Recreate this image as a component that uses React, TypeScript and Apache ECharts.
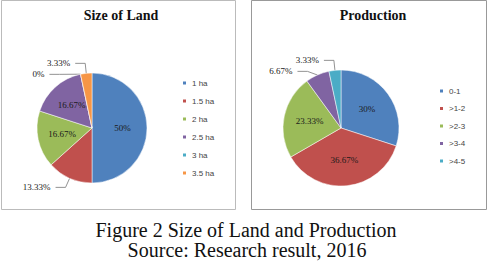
import React, { useEffect, useRef } from "react";
import * as echarts from "echarts";

const landCategories = ["1 ha", "1.5 ha", "2 ha", "2.5 ha", "3 ha", "3.5 ha"];
const landValues = [15, 4, 5, 5, 0, 1];
const landInside = [true, false, true, true, false, false];

const prodCategories = ["0-1", ">1-2", ">2-3", ">3-4", ">4-5"];
const prodValues = [9, 11, 7, 2, 1];
const prodInside = [true, true, true, false, false];

const landColors = ["#4F81BD", "#C0504D", "#9BBB59", "#8064A2", "#4BACC6", "#F79646"];
const prodColors = ["#4F81BD", "#C0504D", "#9BBB59", "#8064A2", "#4BACC6"];

const fmt = (p: any) => `${Number(p.percent.toFixed(2))}%`;

export default function App() {
  const ref = useRef<HTMLDivElement>(null);
  useEffect(() => {
    if (!ref.current) return;
    const chart = echarts.init(ref.current, undefined, { renderer: "svg" });
    const mk = (cats: string[], vals: number[], inside: boolean[], colors: string[]) =>
      cats.map((c, i) => ({
        name: c,
        value: vals[i],
        itemStyle: { color: colors[i] },
        label: { position: inside[i] ? "inside" : "outside" },
      }));
    const labelStyle = {
      formatter: fmt,
      fontSize: 9,
      color: "#1a1a1a",
      fontFamily: "Liberation Serif",
    };
    chart.setOption({
      animation: false,
      backgroundColor: "#fff",
      title: [
        {
          text: "Size of Land",
          left: 116,
          top: 3,
          textAlign: "center",
          textStyle: { fontFamily: "Liberation Serif", fontWeight: "bold", fontSize: 14, color: "#111" },
        },
        {
          text: "Production",
          left: 368,
          top: 3,
          textAlign: "center",
          textStyle: { fontFamily: "Liberation Serif", fontWeight: "bold", fontSize: 14, color: "#111" },
        },
      ],
      legend: [
        {
          data: landCategories,
          orient: "vertical",
          left: 176,
          top: 74,
          itemWidth: 5,
          itemHeight: 5,
          itemGap: 10,
          icon: "rect",
          textStyle: { fontSize: 8, color: "#444", fontFamily: "Liberation Sans" },
        },
        {
          data: prodCategories,
          orient: "vertical",
          left: 433,
          top: 82,
          itemWidth: 5,
          itemHeight: 5,
          itemGap: 9.5,
          icon: "rect",
          textStyle: { fontSize: 8, color: "#444", fontFamily: "Liberation Sans" },
        },
      ],
      graphic: [
        { type: "rect", shape: { x: 1.5, y: 0.5, width: 234, height: 209 }, style: { fill: "none", stroke: "#bbb", lineWidth: 1 } },
        { type: "rect", shape: { x: 251.5, y: 0.5, width: 235, height: 209 }, style: { fill: "none", stroke: "#999", lineWidth: 1 } },
        {
          type: "text",
          x: 246,
          y: 230,
          style: { text: "Figure 2 Size of Land and Production", fontFamily: "Liberation Serif", fontSize: 20, fill: "#111", align: "center", verticalAlign: "middle" },
        },
        {
          type: "text",
          x: 247,
          y: 250,
          style: { text: "Source: Research result, 2016", fontFamily: "Liberation Serif", fontSize: 20, fill: "#111", align: "center", verticalAlign: "middle" },
        },
      ],
      series: [
        {
          type: "pie",
          name: "Size of Land",
          center: [92, 128],
          radius: 55,
          startAngle: 90,
          clockwise: true,
          data: mk(landCategories, landValues, landInside, landColors),
          label: labelStyle,
          labelLine: { show: true, length: 10, length2: 10, lineStyle: { color: "#777", width: 0.8 } },
          itemStyle: { borderColor: "#fff", borderWidth: 0.5 },
          emphasis: { disabled: true },
        },
        {
          type: "pie",
          name: "Production",
          center: [341, 128],
          radius: 58,
          startAngle: 90,
          clockwise: true,
          data: mk(prodCategories, prodValues, prodInside, prodColors),
          label: labelStyle,
          labelLine: { show: true, length: 10, length2: 10, lineStyle: { color: "#777", width: 0.8 } },
          itemStyle: { borderColor: "#fff", borderWidth: 0.5 },
          emphasis: { disabled: true },
        },
      ],
    });
    return () => chart.dispose();
  }, []);
  return <div ref={ref} style={{ position: "absolute", left: 0, top: 0, width: 493, height: 264 }} />;
}
